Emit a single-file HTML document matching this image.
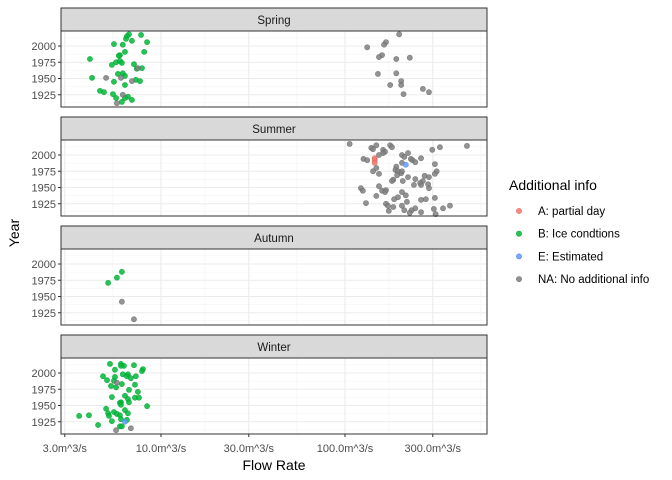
<!DOCTYPE html>
<html><head><meta charset="utf-8"><style>
body{margin:0;background:#fff;}
svg{display:block;font-family:"Liberation Sans",sans-serif;}
</style></head><body>
<svg id="chart" width="672" height="480"></svg>
<script>
const seasons = ["Spring","Summer","Autumn","Winter"];
const categories = ["A: partial day","B: Ice condtions","E: Estimated","NA: No additional info"];
const colors = ["#F8766D","#00BA38","#619CFF","#808080"];
const strokes = ["#d8655d","#00a030","#5085e0","#6a6a6a"];
const xTicks = [3,10,30,100,300];
const xTickLabels = ["3.0m^3/s","10.0m^3/s","30.0m^3/s","100.0m^3/s","300.0m^3/s"];
const yTicks = [1925,1950,1975,2000];
const springFlow = [6.7,6.53,7.79,6.45,6.95,8.4,5.55,6.2,5.98,5.9,6.37,8.1,4.11,5.41,5.7,5.98,6.13,7.13,7.39,7.88,5.83,6.2,6.37,4.22,5.55,7.3,7.69,6.37,4.66,4.9,5.48,5.7,6.61,6.37,6.13,6.95,
 7.49,5.03,6.06,6.95,6.2,5.76,
 197,167,163,132,159,153,190,225,151,190,202,202,176,265,286,208];
const springYear = [2018,2015,2017,2011,2008,2006,2003,2002,1986,1985,1991,1991,1980,1971,1975,1977,1974,1972,1965,1966,1957,1958,1954,1951,1945,1948,1946,1940,1931,1929,1926,1920,1922,1920,1914,1917,
 1966,1951,1951,1946,1925,1912,
 2018,2006,2002,1998,1986,1983,1980,1982,1957,1958,1946,1940,1940,1934,1929,1926];
const springCat = [].concat(Array(36).fill(1),Array(22).fill(3));
const summerFlow = [106,148,176,180,139,142,161,165,161,153,204,220,210,228,233,241,259,298,328,460,126,132,204,308,148,142,153,190,188,194,202,192,204,315,308,220,206,183,180,241,271,286,265,256,237,259,283,286,153,122,125,159,167,165,204,214,148,194,185,217,259,275,308,130,167,171,183,204,372,341,304,173,210,241,230,225,259,311,
 145,145,145,214];
const summerYear = [2017,2015,2015,2012,2011,2009,2008,2005,2003,2000,2000,2003,1997,1994,1992,1989,1995,2008,2012,2014,1994,1992,1988,1986,1980,1975,1971,1982,1977,1975,1972,1969,1975,1975,1971,1966,1960,1962,1960,1963,1968,1966,1960,1957,1954,1954,1955,1949,1952,1949,1945,1945,1946,1943,1943,1938,1937,1935,1932,1928,1931,1932,1934,1926,1925,1922,1920,1922,1922,1918,1917,1914,1915,1918,1915,1911,1912,1909,
 1995,1992,1988,1985];
const summerCat = [].concat(Array(78).fill(3),[0,0,0,2]);
const autumnFlow = [6.13,5.76,5.16,6.13,7.13];
const autumnYear = [1988,1979,1971,1942,1915];
const autumnCat = [1,1,1,3,3];
const winterFlow = [5.28,6.06,6.29,7.13,6.06,7.98,7.88,5.62,4.84,5.09,6.2,6.61,6.53,6.86,7.3,5.62,5.55,5.35,5.7,6.13,7.22,6.7,7.49,6.37,5.41,7.22,7.59,6.61,6.7,6.06,5.98,6.06,8.4,5.03,6.37,5.55,5.16,5.76,6.61,5.22,5.98,4.06,3.59,6.06,6.53,5.41,4.55,5.98,6.13,
 6.37,5.76,5.7,6.86];
const winterYear = [2014,2014,2011,2012,2011,2006,2003,2005,1995,1989,1998,1998,1995,1992,1995,1994,1988,1980,1978,1983,1982,1974,1971,1965,1963,1962,1962,1960,1955,1955,1954,1951,1949,1945,1943,1940,1938,1937,1938,1934,1935,1935,1934,1929,1928,1926,1920,1918,1918,
 1925,1985,1912,1915];
const winterCat = [].concat(Array(49).fill(1),[2,3,3,3]);

const NS="http://www.w3.org/2000/svg";
const svg=document.getElementById('chart');
function mk(tag,attrs,parent){const e=document.createElementNS(NS,tag);for(const k in attrs)e.setAttribute(k,attrs[k]);(parent||svg).appendChild(e);return e;}
const PL=61, PR=487;
const xScale=v=>161+184*(Math.log10(v)-1);
const panelTops=[31,140,249,358];
const stripTops=[8,117,226,335];
const yScale=(yr,top)=>top+15+(2000-yr)*0.65;
const flows=[springFlow,summerFlow,autumnFlow,winterFlow];
const years=[springYear,summerYear,autumnYear,winterYear];
const cats=[springCat,summerCat,autumnCat,winterCat];

seasons.forEach((s,i)=>{
  const top=panelTops[i], st=stripTops[i];
  const g=mk('g',{});
  
  
  const strip=mk('rect',{x:PL,y:st,width:PR-PL,height:23,fill:'#d9d9d9',stroke:'#333','stroke-width':1},g);
  
  
  const stt=mk('text',{x:(PL+PR)/2,y:st+16,'text-anchor':'middle','font-size':11.5,fill:'#1a1a1a'},g);
  stt.textContent=s;
  
  
  [1912.5,1937.5,1962.5,1987.5,2012.5].forEach(y=>{const yy=yScale(y,top);mk('line',{x1:PL,x2:PR,y1:yy,y2:yy,stroke:'#f2f2f2','stroke-width':0.6},g);});
  for(let k=0;k<xTicks.length;k++){const a=Math.log10(xTicks[k]);const b=k+1<xTicks.length?Math.log10(xTicks[k+1]):a+Math.log10(3.3333);const xx=xScale(Math.pow(10,(a+b)/2));if(xx<PR)mk('line',{x1:xx,x2:xx,y1:top,y2:top+76,stroke:'#f2f2f2','stroke-width':0.6},g);}
  yTicks.forEach(y=>{const yy=yScale(y,top);mk('line',{x1:PL,x2:PR,y1:yy,y2:yy,stroke:'#ebebeb','stroke-width':1.1},g);
    const t=mk('text',{x:56,y:yy+4,'text-anchor':'end','font-size':11,fill:'#4d4d4d'},g);t.textContent=y;
    
    
    mk('line',{x1:PL-3,x2:PL,y1:yy,y2:yy,stroke:'#333'},g);});
  xTicks.forEach(v=>{const xx=xScale(v);mk('line',{x1:xx,x2:xx,y1:top,y2:top+76,stroke:'#ebebeb','stroke-width':1.1},g);});
  const F=flows[i],Y=years[i],C=cats[i];
  for(let j=0;j<F.length;j++){
    const c=mk('circle',{cx:xScale(F[j]),cy:yScale(Y[j],top),r:2.6,fill:colors[C[j]],'fill-opacity':0.85,stroke:strokes[C[j]],'stroke-width':0.6,'stroke-opacity':0.8},g);
    
    
  }
  const pb=mk('rect',{x:PL,y:top,width:PR-PL,height:76,fill:'none',stroke:'#333','stroke-width':1},g);
  
  
});
xTicks.forEach((v,k)=>{const xx=xScale(v);mk('line',{x1:xx,x2:xx,y1:434,y2:437,stroke:'#333'});
  const t=mk('text',{x:xx,y:452,'text-anchor':'middle','font-size':11,fill:'#4d4d4d'});t.textContent=xTickLabels[k];
  
  });
const xt=mk('text',{x:274,y:470,'text-anchor':'middle','font-size':14,fill:'#000'});xt.textContent='Flow Rate';


const yt=mk('text',{x:19,y:233,'text-anchor':'middle','font-size':14,fill:'#000',transform:'rotate(-90 19 233)'});yt.textContent='Year';


const lt=mk('text',{x:509,y:190,'font-size':14,fill:'#000'});lt.textContent='Additional info';


categories.forEach((c,k)=>{const y=211+k*22.7;
  const g=mk('g',{});
  
  
  mk('circle',{cx:519,cy:y,r:2.6,fill:colors[k],'fill-opacity':0.85,stroke:strokes[k],'stroke-width':0.6},g);
  const t=mk('text',{x:538,y:y+4,'font-size':11.5,fill:'#000'},g);t.textContent=c;});
</script>
</body></html>
